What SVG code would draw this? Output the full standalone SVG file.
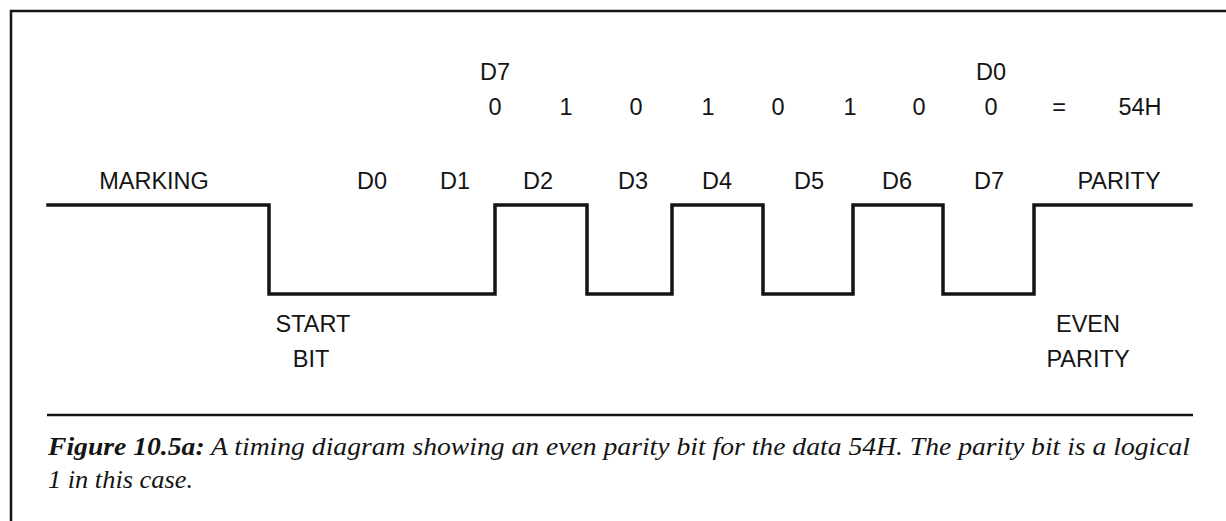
<svg xmlns="http://www.w3.org/2000/svg" width="1226" height="521" viewBox="0 0 1226 521">
  <style>
    .lbl { font-family: "Liberation Sans", Arial, sans-serif; font-size: 23.5px; fill: #141414; text-anchor: middle; }
    .cap { font-family: "Liberation Serif", "Times New Roman", serif; font-size: 26px; font-style: italic; fill: #141414; }
    .wave { fill: none; stroke: #141414; stroke-width: 3.5; stroke-linejoin: miter; stroke-linecap: square; }
    .rule { stroke: #141414; stroke-width: 2.5; fill: none; }
  </style>
  <rect x="0" y="0" width="1226" height="521" fill="#ffffff"/>
  <g id="frame">
    <path class="rule" d="M11,521 V11 H1226" stroke-width="3"/>
  </g>
  <g id="bit-values">
    <text class="lbl" x="495" y="80">D7</text>
    <text class="lbl" x="991" y="80">D0</text>
    <text class="lbl" x="495" y="115">0</text>
    <text class="lbl" x="566" y="115">1</text>
    <text class="lbl" x="636" y="115">0</text>
    <text class="lbl" x="708" y="115">1</text>
    <text class="lbl" x="778" y="115">0</text>
    <text class="lbl" x="850" y="115">1</text>
    <text class="lbl" x="919" y="115">0</text>
    <text class="lbl" x="991" y="115">0</text>
    <text class="lbl" x="1059" y="115">=</text>
    <text class="lbl" x="1140" y="115">54H</text>
  </g>
  <g id="bit-labels">
    <text class="lbl" x="154" y="189">MARKING</text>
    <text class="lbl" x="372" y="189">D0</text>
    <text class="lbl" x="455" y="189">D1</text>
    <text class="lbl" x="538" y="189">D2</text>
    <text class="lbl" x="633" y="189">D3</text>
    <text class="lbl" x="717" y="189">D4</text>
    <text class="lbl" x="809" y="189">D5</text>
    <text class="lbl" x="897" y="189">D6</text>
    <text class="lbl" x="989" y="189">D7</text>
    <text class="lbl" x="1119" y="189">PARITY</text>
  </g>
  <g id="connectors">
    <path id="waveform" class="wave" d="M48,205 H269 V294 H495 V205 H587 V294 H672 V205 H763 V294 H853 V205 H943 V294 H1034 V205 H1191"/>
  </g>
  <g id="start-bit">
    <text class="lbl" x="313" y="332">START</text>
    <text class="lbl" x="311" y="367">BIT</text>
  </g>
  <g id="even-parity">
    <text class="lbl" x="1088" y="332">EVEN</text>
    <text class="lbl" x="1088" y="367">PARITY</text>
  </g>
  <g id="caption">
    <line class="rule" x1="47" y1="415" x2="1193" y2="415"/>
    <text class="cap" x="48" y="455" textLength="1142" lengthAdjust="spacingAndGlyphs"><tspan font-weight="bold">Figure 10.5a:</tspan> A timing diagram showing an even parity bit for the data 54H. The parity bit is a logical</text>
    <text class="cap" x="48" y="488" textLength="145" lengthAdjust="spacingAndGlyphs">1 in this case.</text>
  </g>
</svg>
